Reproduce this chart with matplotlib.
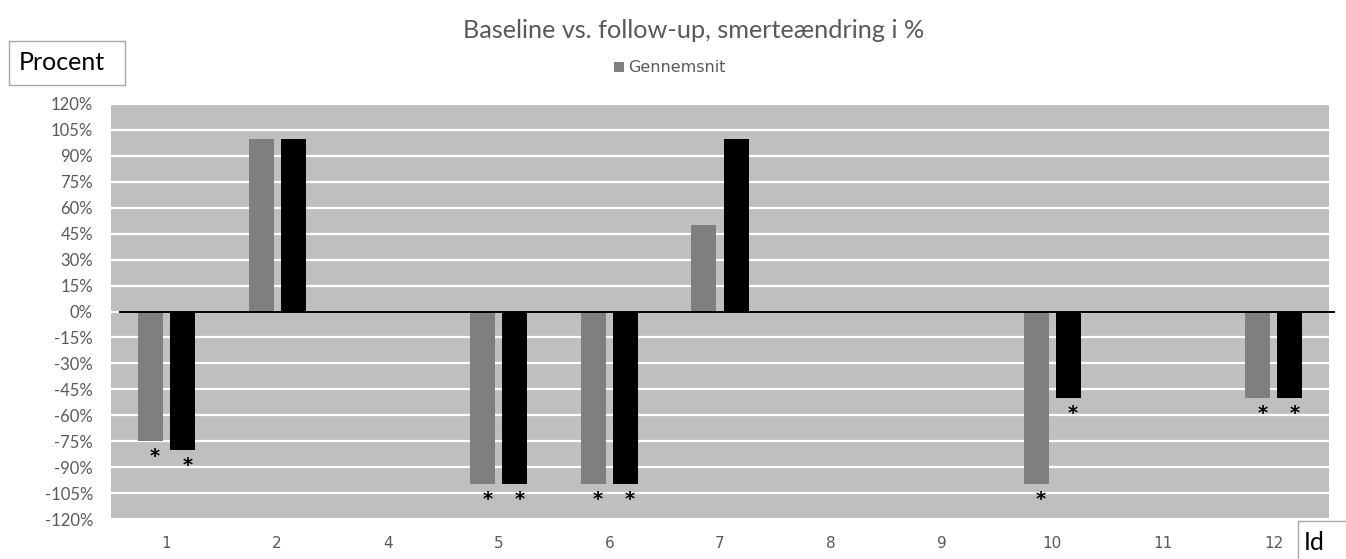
import matplotlib
matplotlib.use("Agg")
import matplotlib.pyplot as plt
import numpy as np
from matplotlib.patches import Rectangle

# Patient ids on the x axis
ids = ['1', '2', '4', '5', '6', '7', '8', '9', '10', '11', '12']
# Pain change in percent, two measurements per id
gennemsnit = [-75, 100, 0, -100, -100, 50, 0, 0, -100, 0, -50]
serie_2 = [-80, 100, 0, -100, -100, 100, 0, 0, -50, 0, -50]
y_ticks = list(range(-120, 121, 15))

title = "Baseline vs. follow-up, smerteændring i %"
grey = "#7f7f7f"
text_grey = "#595959"
font = "Lato"

W, H = 1346, 559
fig = plt.figure(figsize=(W / 100, H / 100), dpi=100)
ax = fig.add_axes([111 / W, 1 - 519 / H, 1218 / W, 415 / H])
ax.set_facecolor("#bfbfbf")

x = np.arange(len(ids))
bw = 0.226
off = 0.145
b1 = ax.bar(x - off, gennemsnit, bw, color=grey, label="Gennemsnit", zorder=3)
b2 = ax.bar(x + off, serie_2, bw, color="black", zorder=3)

# asterisks under every negative bar
for xs, vals in ((x - off, gennemsnit), (x + off, serie_2)):
    for xi, v in zip(xs, vals):
        if v < 0:
            ax.annotate("*", (xi, v), xytext=(3.5, -11), textcoords="offset points",
                        ha="center", va="center", fontsize=14, color="black",
                        family="DejaVu Sans", fontweight="bold", zorder=4)

ax.set_xlim(-0.5, len(ids) - 0.5)
ax.set_ylim(-120, 120)
ax.set_yticks(y_ticks)
ax.set_yticklabels([f"{v}%" for v in y_ticks], family=font, fontsize=12, color=text_grey)
ax.set_xticks(x)
ax.set_xticklabels(ids, family="DejaVu Sans", fontsize=11, color=text_grey)
ax.tick_params(axis="both", length=0)
ax.tick_params(axis="y", pad=13)
ax.tick_params(axis="x", pad=12)
for s in ax.spines.values():
    s.set_visible(False)
ax.grid(axis="y", color="white", linewidth=1.6, zorder=1)
ax.set_axisbelow(True)

# zero axis line
ax.plot([0.0074, 1.004], [0, 0], color="black", linewidth=1.4,
        transform=ax.get_yaxis_transform(), clip_on=False, zorder=5)

fig.text(694 / W, 1 - 30 / H, title, ha="center", va="center",
         family=font, fontsize=18.2, color=text_grey)

fig.legend(handles=[b1], labels=["Gennemsnit"], loc="center",
           bbox_to_anchor=(670 / W, 1 - 68 / H), frameon=False,
           prop={"family": "DejaVu Sans", "size": 11.5},
           handlelength=0.6, handleheight=0.6, handletextpad=0.3,
           labelcolor=text_grey)

# axis name boxes
fig.patches.append(Rectangle((9 / W, 1 - 85 / H), 116 / W, 44 / H,
                             transform=fig.transFigure, fill=False,
                             edgecolor="#a6a6a6", linewidth=1))
fig.text(19 / W, 1 - 63 / H, "Procent", ha="left", va="center",
         family=font, fontsize=18, color="black")
fig.patches.append(Rectangle((1298 / W, 1 - 562 / H), 60 / W, 41 / H,
                             transform=fig.transFigure, fill=False,
                             edgecolor="#a6a6a6", linewidth=1))
fig.text(1304 / W, 1 - 542 / H, "Id", ha="left", va="center",
         family=font, fontsize=18, color="black")

fig.savefig("out.png", dpi=100, facecolor="white")
